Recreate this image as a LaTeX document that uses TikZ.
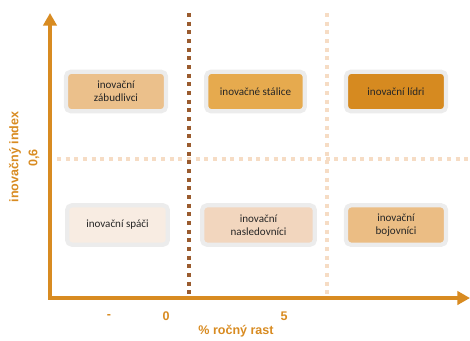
\documentclass[tikz,border=0pt]{standalone}
\usepackage{fontspec}
\setmainfont{Carlito}
\newfontfamily\labfont{Liberation Sans}
\usetikzlibrary{arrows.meta}
\definecolor{axisorange}{HTML}{D88B21}
\definecolor{divbrown}{HTML}{9A5B2E}
\definecolor{divlight}{HTML}{F6DCC4}
\definecolor{frame}{HTML}{ECECEC}
\definecolor{fa}{HTML}{EBC08B}
\definecolor{fb}{HTML}{E6AA4E}
\definecolor{fc}{HTML}{D68A20}
\definecolor{fd}{HTML}{F8ECE2}
\definecolor{fe}{HTML}{F2D6BE}
\definecolor{ff}{HTML}{EBBD84}
\definecolor{boxtext}{HTML}{262626}
\tikzset{
  axis/.style={draw=axisorange, line width=3pt, {Triangle[width=10pt,length=9.5pt]}-{Triangle[width=10pt,length=9.5pt]}},
  divider/.style={line width=3pt, dash pattern=on 3pt off 3.5pt},
  quad/.style={draw=frame, line width=3.2pt, rounded corners=3.5pt,
    minimum height=29.5pt, align=center, text=boxtext,
    font=\fontsize{8.3}{10}\selectfont, inner sep=1pt},
  axlabel/.style={text=axisorange, font=\labfont\bfseries\fontsize{9.4}{11}\selectfont}
}
\begin{document}
\begin{tikzpicture}[x=0.75pt,y=-0.75pt]
\useasboundingbox (0,0) rectangle (470,340);
% frame of reference points
\coordinate (ytip) at (50,13);
\coordinate (orig) at (50,298);
\coordinate (xtip) at (470,298);
\coordinate (v1a) at (189,13);
\coordinate (v1b) at (189,298);
\coordinate (v2a) at (327,13);
\coordinate (v2b) at (327,297);
\coordinate (h1a) at (57,158.5);
\coordinate (h1b) at (470,158.5);
% threshold lines
\draw[divider, divlight] (h1a) -- (h1b);
\draw[divider, divlight] (v2a) -- (v2b);
\draw[divider, divbrown] (v1a) -- (v1b);
% axes
\draw[axis] (ytip) -- (orig) -- (xtip);
% quadrant boxes
\node[quad, fill=fa, minimum width=75pt] (zab) at (116,91.5) {inovační\\zábudlivci};
\node[quad, fill=fb, minimum width=74pt] (sta) at (255.5,91.5) {inovačné stálice};
\node[quad, fill=fc, minimum width=75pt] (lid) at (396,91.5) {inovační lídri};
\node[quad, fill=fd, minimum width=75.5pt] (spa) at (117.5,225) {inovační spáči};
\node[quad, fill=fe, minimum width=84.5pt] (nas) at (258.5,225) {inovační\\nasledovníci};
\node[quad, fill=ff, minimum width=75pt] (boj) at (396,225) {inovační\\bojovníci};
% axis labels
\node[axlabel, rotate=90] (ylab) at (15,157) {inovačný index};
\node[axlabel, rotate=90] (y06) at (34,158) {0,6};
\node[axlabel] (xm) at (109,316) {-};
\node[axlabel] (x0) at (166,316) {0};
\node[axlabel] (x5) at (284,316) {5};
\node[axlabel] (xlab) at (236,331) {\% ročný rast};
\end{tikzpicture}
\end{document}
